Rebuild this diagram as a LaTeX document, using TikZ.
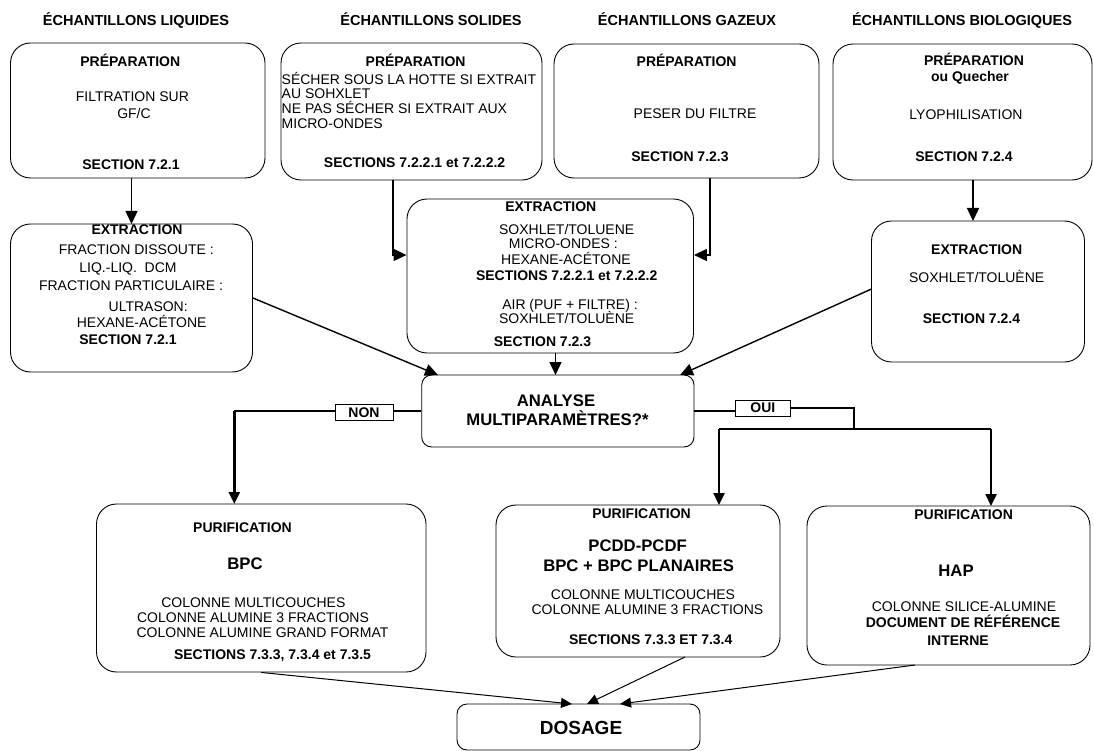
\documentclass[tikz,border=0pt]{standalone}
\usepackage{fontspec}
\setmainfont{Liberation Sans}
\usetikzlibrary{arrows.meta}
\begin{document}
\begin{tikzpicture}[x=1pt,y=-1pt,
  box/.style={draw, line width=0.9pt, rounded corners=20pt, inner sep=0pt},
  sbox/.style={draw, line width=0.9pt, rounded corners=10pt, inner sep=0pt},
  lbl/.style={draw, line width=0.7pt, inner sep=0pt, minimum height=16pt, font=\fontsize{14}{16}\selectfont\bfseries},
  t/.style={anchor=base, inner sep=0pt, font=\fontsize{14}{16}\selectfont},
  tl/.style={anchor=base west, inner sep=0pt, font=\fontsize{14}{16}\selectfont},
  tb/.style={anchor=base, inner sep=0pt, font=\fontsize{14}{16}\selectfont\bfseries},
  th/.style={anchor=base, inner sep=0pt, font=\fontsize{14.5}{17}\selectfont\bfseries},
  tB/.style={anchor=base, inner sep=0pt, font=\fontsize{16.7}{19}\selectfont\bfseries},
  arr/.style={line width=1.4pt, -{Triangle[length=13pt,width=12pt]}},
  tarr/.style={line width=2.4pt, -{Triangle[length=12pt,width=11pt]}},
  darr/.style={line width=1pt, -{Triangle[length=11pt,width=10pt]}},
  conn/.style={line width=1.5pt}
]
\useasboundingbox (0,0) rectangle (1094,751);

% headers
\node[th] (h1) at (136,25.7) {ÉCHANTILLONS LIQUIDES};
\node[th] (h2) at (431,25.7) {ÉCHANTILLONS SOLIDES};
\node[th] (h3) at (687,25.7) {ÉCHANTILLONS GAZEUX};
\node[th] (h4) at (962,25.7) {ÉCHANTILLONS BIOLOGIQUES};

% preparation boxes
\node[box, minimum width=254.5pt, minimum height=135pt] (b1) at (137.75,110.5) {};
\node[box, minimum width=261pt, minimum height=137pt] (b2) at (411.5,111.5) {};
\node[box, minimum width=265pt, minimum height=134pt] (b3) at (686.5,111) {};
\node[box, minimum width=259pt, minimum height=136pt] (b4) at (962.5,112) {};

\node[tb] (b1a) at (130.3,67) {PRÉPARATION};
\node[t] (b1b) at (132.4,102) {FILTRATION SUR};
\node[t] (b1c) at (134,119) {GF/C};
\node[tb] (b1d) at (131,170) {SECTION 7.2.1};

\node[tb] (b2a) at (415.6,67) {PRÉPARATION};
\node[tl] (b2b) at (281.5,84.3) {SÉCHER SOUS LA HOTTE SI EXTRAIT};
\node[tl] (b2c) at (281.5,99) {AU SOHXLET};
\node[tl] (b2d) at (281.5,114) {NE PAS SÉCHER SI EXTRAIT AUX};
\node[tl] (b2e) at (281.5,129) {MICRO-ONDES};
\node[tb] (b2f) at (414.6,167.3) {SECTIONS 7.2.2.1 et 7.2.2.2};

\node[tb] (b3a) at (686.6,67) {PRÉPARATION};
\node[t] (b3b) at (695,118.3) {PESER DU FILTRE};
\node[tb] (b3c) at (680,161.7) {SECTION 7.2.3};

\node[tb] (b4a) at (974,66) {PRÉPARATION};
\node[tb] (b4b) at (970,81.7) {ou Quecher};
\node[t] (b4c) at (966,119.3) {LYOPHILISATION};
\node[tb] (b4d) at (964,161.7) {SECTION 7.2.4};

% extraction boxes
\node[box, minimum width=242pt, minimum height=148pt] (e1) at (131.5,298) {};
\node[box, minimum width=286.5pt, minimum height=154pt] (e2) at (550.25,276) {};
\node[box, minimum width=213pt, minimum height=141pt] (e4) at (978,291.5) {};

\node[tb] (e1a) at (137,234.3) {EXTRACTION};
\node[t] (e1b) at (136.3,254.3) {FRACTION DISSOUTE :};
\node[t] (e1c) at (128,272.3) {LIQ.-LIQ.\ \ DCM};
\node[t] (e1d) at (131,290) {FRACTION PARTICULAIRE :};
\node[t] (e1e) at (148.2,311.7) {ULTRASON:};
\node[t] (e1f) at (141.7,327.7) {HEXANE-ACÉTONE};
\node[tb] (e1g) at (128,344) {SECTION 7.2.1};

\node[tb] (e2a) at (550.8,211.7) {EXTRACTION};
\node[t] (e2b) at (566.7,235) {SOXHLET/TOLUENE};
\node[t] (e2c) at (563.3,249) {MICRO-ONDES :};
\node[t] (e2d) at (566,264.3) {HEXANE-ACÉTONE};
\node[tb] (e2e) at (566.7,280) {SECTIONS 7.2.2.1 et 7.2.2.2};
\node[t] (e2f) at (570,309) {AIR (PUF + FILTRE) :};
\node[t] (e2g) at (566.7,323.5) {SOXHLET/TOLUÈNE};
\node[tb] (e2h) at (542.5,346.7) {SECTION 7.2.3};

\node[tb] (e4a) at (976.7,254.3) {EXTRACTION};
\node[t] (e4b) at (976.7,282.7) {SOXHLET/TOLUÈNE};
\node[tb] (e4c) at (971.5,323.3) {SECTION 7.2.4};

% decision
\node[sbox, minimum width=272.3pt, minimum height=72pt] (d) at (557.85,411) {};
\node[tB] (da) at (556,406.7) {ANALYSE};
\node[tB] (db) at (557.5,425.3) {MULTIPARAMÈTRES?*};

% purification boxes
\node[box, minimum width=329.5pt, minimum height=168pt] (p1) at (261.25,588) {};
\node[box, minimum width=284pt, minimum height=152pt] (p2) at (638,581) {};
\node[box, minimum width=283pt, minimum height=159pt] (p3) at (948.5,585.5) {};

\node[tb] (p1a) at (242.5,532.3) {PURIFICATION};
\node[tB] (p1b) at (245,569.3) {BPC};
\node[t] (p1c) at (253.3,607) {COLONNE MULTICOUCHES};
\node[t] (p1d) at (253,622) {COLONNE ALUMINE 3 FRACTIONS};
\node[t] (p1e) at (262.5,637) {COLONNE ALUMINE GRAND FORMAT};
\node[tb] (p1f) at (272.5,659) {SECTIONS 7.3.3, 7.3.4 et 7.3.5};

\node[tb] (p2a) at (641.5,518.3) {PURIFICATION};
\node[tB] (p2b) at (637.6,551) {PCDD-PCDF};
\node[tB] (p2c) at (638.6,571) {BPC + BPC PLANAIRES};
\node[t] (p2d) at (643,599.3) {COLONNE MULTICOUCHES};
\node[t] (p2e) at (647.4,614.3) {COLONNE ALUMINE 3 FRACTIONS};
\node[tb] (p2f) at (650.7,644.3) {SECTIONS 7.3.3 ET 7.3.4};

\node[tb] (p3a) at (963.6,519) {PURIFICATION};
\node[tB] (p3b) at (956,576) {HAP};
\node[t] (p3c) at (964,611) {COLONNE SILICE-ALUMINE};
\node[tb] (p3d) at (963,627) {DOCUMENT DE RÉFÉRENCE};
\node[tb] (p3e) at (958,645) {INTERNE};

% dosage
\node[sbox, minimum width=243pt, minimum height=46pt] (dos) at (578.5,727) {};
\node[anchor=base, inner sep=0pt, font=\fontsize{19}{22}\selectfont\bfseries] (dosa) at (581,734.8) {DOSAGE};

% labels NON / OUI
\node[lbl, minimum width=58pt] (non) at (364,412.5) {NON};
\node[lbl, minimum width=55pt] (oui) at (762.8,408) {OUI};

% helper coordinates
\coordinate (e1in) at (131.5,224);
\coordinate (b2dn) at (393,255);
\coordinate (b3dn) at (710,255);
\coordinate (e4in) at (973,221);
\coordinate (dnw) at (438,375);
\coordinate (dne) at (680,375);
\coordinate (dn) at (555.5,375);
\coordinate (p1in) at (234.3,504);
\coordinate (br) at (854,429);
\coordinate (brl) at (719,429);
\coordinate (brr) at (991,429);
\coordinate (p2in) at (719,505);
\coordinate (p3in) at (991,506);
\coordinate (p2out) at (685,657);
\coordinate (p3out) at (915,665);
\coordinate (dos1) at (572,704);
\coordinate (dos2) at (587,704);
\coordinate (dos3) at (620,704);
\coordinate (e4out) at (871.5,289);

% connectors
\draw[arr] (e1in |- b1.south) -- (e1in);
\draw[arr] (b2dn |- b2.south) -- (b2dn) -- (e2.west |- b2dn);
\draw[arr] (b3dn |- b3.south) -- (b3dn) -- (e2.east |- b3dn);
\draw[arr] (e4in |- b4.south) -- (e4in);
\draw[arr] (e1.east) -- (dnw);
\draw[arr] (e4out) -- (dne);
\draw[arr] (dn |- e2.south) -- (dn);

\draw[conn] (d.west) -- (non.east |- d.west);
\draw[conn] (non.west |- d.west) -- (p1in |- d.west);
\draw[tarr] (p1in |- d.west) -- (p1in);

\draw[conn] (d.east) -- (oui.west |- d.east);
\draw[conn] (oui.east) -| (br);
\draw[line width=2.4pt] (brl) -- (brr);
\draw[tarr] (brl) -- (p2in);
\draw[tarr] (brr) -- (p3in);

\draw[darr] (p1.south) -- (dos1);
\draw[darr] (p2out) -- (dos2);
\draw[darr] (p3out) -- (dos3);
\end{tikzpicture}
\end{document}
